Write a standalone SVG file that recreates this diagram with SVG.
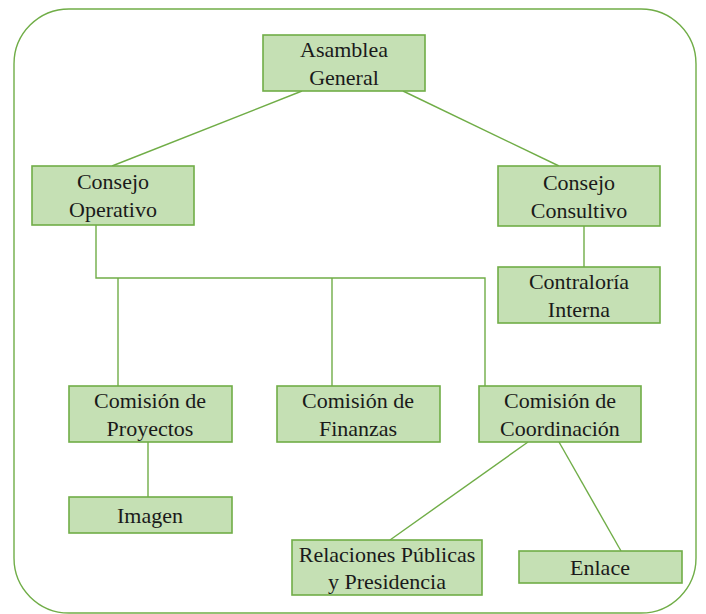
<svg xmlns="http://www.w3.org/2000/svg" width="706" height="614" viewBox="0 0 706 614">
<style>
.box{fill:#c5e0b4;stroke:#70ad47;stroke-width:1.6}
.c{stroke:#70ad47;stroke-width:1.4;fill:none}
text{font-family:'Times New Roman','Liberation Serif',serif;font-size:22px;fill:#1a1a1a;text-anchor:middle}
</style>
<rect x="14" y="9" width="682" height="604" rx="55" ry="55" fill="#fff" stroke="#70ad47" stroke-width="1.4"/>
<g id="connectors">
<line class="c" x1="302" y1="91" x2="112" y2="166"/>
<line class="c" x1="403" y1="91" x2="559" y2="166"/>
<line class="c" x1="584" y1="226" x2="584" y2="267"/>
<polyline class="c" points="96,225 96,278 485,278 485,386"/>
<line class="c" x1="118" y1="278" x2="118" y2="386"/>
<line class="c" x1="332" y1="278" x2="332" y2="386"/>
<line class="c" x1="148" y1="442" x2="148" y2="497"/>
<line class="c" x1="528" y1="442" x2="390" y2="540"/>
<line class="c" x1="559" y1="442" x2="621" y2="551"/>
</g>
<g id="asamblea"><rect class="box" x="263" y="35" width="162" height="56"/><text x="344" y="57">Asamblea</text><text x="344" y="85">General</text></g>
<g id="consejo-operativo"><rect class="box" x="32" y="166" width="162" height="59"/><text x="113" y="189">Consejo</text><text x="113" y="217">Operativo</text></g>
<g id="consejo-consultivo"><rect class="box" x="498" y="166" width="162" height="60"/><text x="579" y="190">Consejo</text><text x="579" y="218">Consultivo</text></g>
<g id="contraloria"><rect class="box" x="498" y="267" width="162" height="56"/><text x="579" y="289">Contraloría</text><text x="579" y="317">Interna</text></g>
<g id="proyectos"><rect class="box" x="69" y="386" width="163" height="56"/><text x="150" y="408">Comisión de</text><text x="150" y="436">Proyectos</text></g>
<g id="finanzas"><rect class="box" x="277" y="386" width="163" height="56"/><text x="358" y="408">Comisión de</text><text x="358" y="436">Finanzas</text></g>
<g id="coordinacion"><rect class="box" x="479" y="386" width="162" height="56"/><text x="560" y="408">Comisión de</text><text x="560" y="436">Coordinación</text></g>
<g id="imagen"><rect class="box" x="69" y="497" width="163" height="36"/><text x="150" y="523">Imagen</text></g>
<g id="relaciones"><rect class="box" x="292" y="540" width="190" height="55"/><text x="387" y="562">Relaciones Públicas</text><text x="387" y="589">y Presidencia</text></g>
<g id="enlace"><rect class="box" x="519" y="551" width="163" height="32"/><text x="600" y="575">Enlace</text></g>
</svg>
